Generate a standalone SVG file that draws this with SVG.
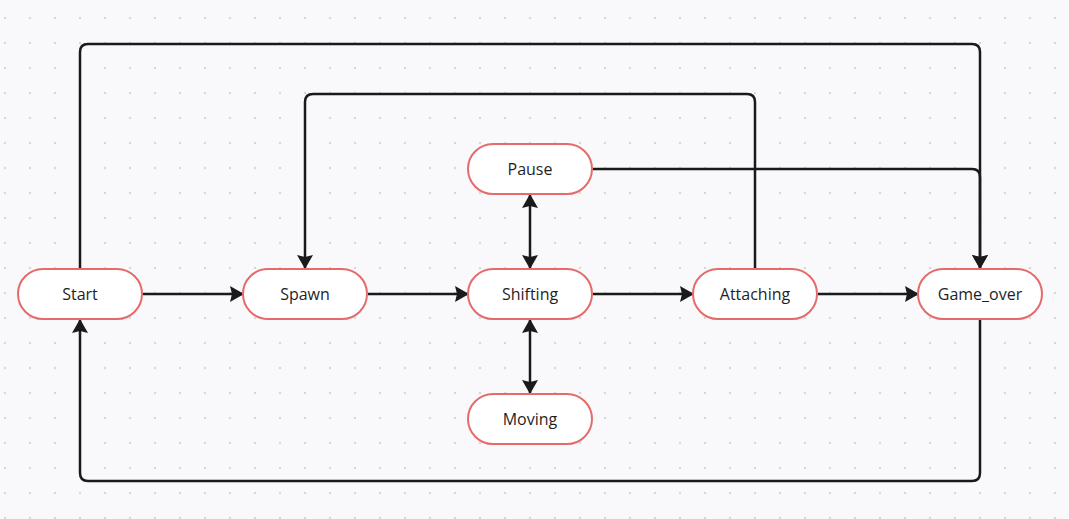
<svg xmlns="http://www.w3.org/2000/svg" width="1069" height="519" viewBox="0 0 1069 519">
<defs>
<pattern id="dots" x="0" y="0" width="25" height="25" patternUnits="userSpaceOnUse">
<circle cx="5" cy="18" r="1.2" fill="#d6d7dc"/>
</pattern>
<marker id="arr" viewBox="0 0 14 16" refX="13" refY="8" markerWidth="14" markerHeight="16" markerUnits="userSpaceOnUse" orient="auto-start-reverse">
<path d="M0,0 L14,8 L0,16 L2,8 Z" fill="#1a1a1a"/>
</marker>
<style>
.node rect{fill:#ffffff;stroke:#e56b6b;stroke-width:2}
.node text{font-family:"Open Sans","Noto Sans",sans-serif;font-size:16px;fill:#1f1f1f;text-anchor:middle;dominant-baseline:central}
.edge{fill:none;stroke:#1a1a1a;stroke-width:2.5}
</style>
</defs>
<rect width="1069" height="519" fill="#f9f9fb"/>
<rect width="1069" height="519" fill="url(#dots)"/>
<g id="connectors">
<path class="edge" d="M143,294 H243" marker-end="url(#arr)"/>
<path class="edge" d="M368,294 H468" marker-end="url(#arr)"/>
<path class="edge" d="M593,294 H693" marker-end="url(#arr)"/>
<path class="edge" d="M818,294 H918" marker-end="url(#arr)"/>
<path class="edge" d="M530,195 V268" marker-start="url(#arr)" marker-end="url(#arr)"/>
<path class="edge" d="M530,320 V393" marker-start="url(#arr)" marker-end="url(#arr)"/>
<path class="edge" d="M80,269 V52 Q80,44 88,44 H972 Q980,44 980,52 V268" marker-end="url(#arr)"/>
<path class="edge" d="M593,169 H972 Q980,169 980,177 V268" marker-end="url(#arr)"/>
<path class="edge" d="M755,269 V102 Q755,94 747,94 H313 Q305,94 305,102 V268" marker-end="url(#arr)"/>
<path class="edge" d="M980,319 V473 Q980,481 972,481 H88 Q80,481 80,473 V320" marker-end="url(#arr)"/>
</g>
<g id="node-start" class="node"><rect x="18" y="269" width="124" height="50" rx="25"/><text x="80" y="294">Start</text></g>
<g id="node-spawn" class="node"><rect x="243" y="269" width="124" height="50" rx="25"/><text x="305" y="294">Spawn</text></g>
<g id="node-shifting" class="node"><rect x="468" y="269" width="124" height="50" rx="25"/><text x="530" y="294">Shifting</text></g>
<g id="node-attaching" class="node"><rect x="693" y="269" width="124" height="50" rx="25"/><text x="755" y="294">Attaching</text></g>
<g id="node-gameover" class="node"><rect x="918" y="269" width="124" height="50" rx="25"/><text x="980" y="294">Game_over</text></g>
<g id="node-pause" class="node"><rect x="468" y="144" width="124" height="50" rx="25"/><text x="530" y="169">Pause</text></g>
<g id="node-moving" class="node"><rect x="468" y="394" width="124" height="50" rx="25"/><text x="530" y="419">Moving</text></g>
</svg>
